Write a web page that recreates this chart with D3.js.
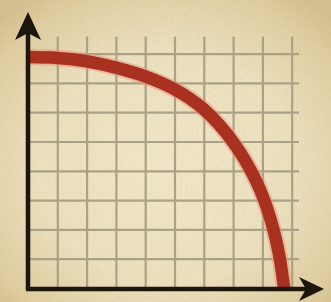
<!DOCTYPE html>
<html>
<head>
<meta charset="utf-8">
<script src="https://cdn.jsdelivr.net/npm/d3@7"></script>
<style>
  html, body { margin: 0; padding: 0; background: #e9dab3; }
  svg { display: block; }
</style>
</head>
<body>
<svg id="chart" width="331" height="302"></svg>
<script>
// grid positions (data units) and the frontier curve
const gridX = [1, 2, 3, 4, 5, 6, 7, 8, 9];
const gridY = [1, 2, 3, 4, 5, 6, 7, 8];
const curveX = [0, 1, 2, 3, 4, 5, 5.5, 6, 6.5, 7, 7.5, 7.9, 8.2, 8.45, 8.62, 8.74];
const curveY = [7.88, 7.85, 7.74, 7.52, 7.22, 6.78, 6.48, 6.10, 5.60, 4.98, 4.20, 3.40, 2.60, 1.70, 0.85, 0];

const W = 331, H = 302;
const svg = d3.select("#chart");

const x = d3.scaleLinear().domain([0, 10]).range([28, 321]);
const y = d3.scaleLinear().domain([0, 10]).range([288, -5]);

// ─── paper background ──────────────────────────────
const defs = svg.append("defs");
const rg = defs.append("radialGradient").attr("id", "paper")
  .attr("cx", "50%").attr("cy", "55%").attr("r", "70%");
rg.append("stop").attr("offset", "0%").attr("stop-color", "#f3e9cb");
rg.append("stop").attr("offset", "55%").attr("stop-color", "#eee2c0");
rg.append("stop").attr("offset", "85%").attr("stop-color", "#e2d0a4");
rg.append("stop").attr("offset", "100%").attr("stop-color", "#d5c08f");

const noise = defs.append("filter").attr("id", "noise");
noise.append("feTurbulence").attr("type", "fractalNoise")
  .attr("baseFrequency", 0.35).attr("numOctaves", 2).attr("seed", 4);
noise.append("feColorMatrix").attr("type", "matrix")
  .attr("values", "0 0 0 0 0.45  0 0 0 0 0.38  0 0 0 0 0.2  0 0 0 0.35 -0.05");

const soft = defs.append("filter").attr("id", "soft");
soft.append("feGaussianBlur").attr("stdDeviation", 0.6);

svg.append("rect").attr("width", W).attr("height", H).attr("fill", "url(#paper)");
svg.append("rect").attr("width", W).attr("height", H)
  .attr("filter", "url(#noise)").attr("opacity", 0.5);

// ─── grid, via axes with full-length ticks ─────────
const grid = svg.append("g").attr("filter", "url(#soft)");
const gridTop = y(8.58), gridRight = x(9.25);

grid.append("g")
  .attr("transform", `translate(0,${y(0)})`)
  .call(d3.axisBottom(x).tickValues(gridX).tickSize(-(y(0) - gridTop)).tickFormat(""))
  .call(g => g.select(".domain").remove());

grid.append("g")
  .attr("transform", `translate(${x(0)},0)`)
  .call(d3.axisLeft(y).tickValues(gridY).tickSize(-(gridRight - x(0))).tickFormat(""))
  .call(g => g.select(".domain").remove());

grid.selectAll(".tick line")
  .attr("stroke", "#aaa286")
  .attr("stroke-width", 2.2);

// ─── frontier curve ────────────────────────────────
const pts = curveX.map((v, i) => [v, curveY[i]]);
const line = d3.line()
  .x(d => x(d[0]))
  .y(d => y(d[1]))
  .curve(d3.curveMonotoneX);

svg.append("path").datum(pts)
  .attr("d", line)
  .attr("fill", "none")
  .attr("stroke", "#e8957f")
  .attr("stroke-width", 16.5)
  .attr("opacity", 0.5)
  .attr("filter", "url(#soft)");

svg.append("path").datum(pts)
  .attr("d", line)
  .attr("fill", "none")
  .attr("stroke", "#a8311f")
  .attr("stroke-width", 12.5);

// ─── axes with arrowheads ──────────────────────────
const axes = svg.append("g").attr("filter", "url(#soft)");
const ink = "#1b1510";

axes.append("line")
  .attr("x1", x(0)).attr("y1", y(0) + 2)
  .attr("x2", x(0)).attr("y2", 32)
  .attr("stroke", ink).attr("stroke-width", 4.5);

axes.append("line")
  .attr("x1", x(0) - 2).attr("y1", y(0) + 1)
  .attr("x2", 308).attr("y2", y(0) + 1)
  .attr("stroke", ink).attr("stroke-width", 4.5);

axes.append("path")
  .attr("d", `M${x(0)},12 L${x(0) + 13},40 L${x(0)},33 L${x(0) - 13},40 Z`)
  .attr("fill", ink);

axes.append("path")
  .attr("d", `M324,${y(0) + 1} L299,${y(0) - 11} L306,${y(0) + 1} L299,${y(0) + 13} Z`)
  .attr("fill", ink);
</script>
</body>
</html>
